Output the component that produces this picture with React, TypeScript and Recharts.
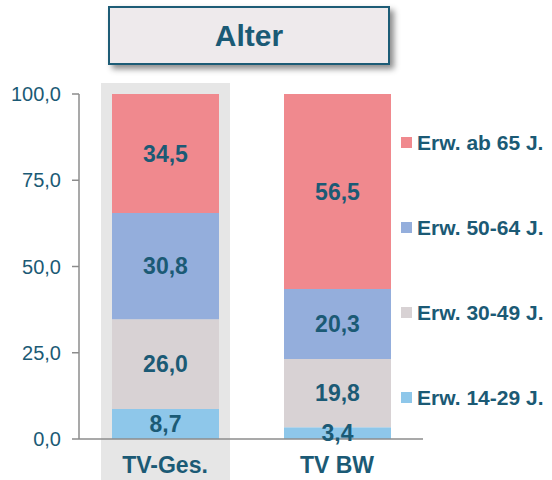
import React from 'react';
import { BarChart, Bar, XAxis, YAxis, LabelList } from 'recharts';

const categories = ['TV-Ges.', 'TV BW'];
const erw1429 = [8.7, 3.4];
const erw3049 = [26.0, 19.8];
const erw5064 = [30.8, 20.3];
const erwAb65 = [34.5, 56.5];
const yTicks = [0, 25, 50, 75, 100];

const series = [
  { key: 'a', name: 'Erw. 14-29 J.', values: erw1429, color: '#8EC7EA' },
  { key: 'b', name: 'Erw. 30-49 J.', values: erw3049, color: '#D8D2D4' },
  { key: 'c', name: 'Erw. 50-64 J.', values: erw5064, color: '#94AEDC' },
  { key: 'd', name: 'Erw. ab 65 J.', values: erwAb65, color: '#F0898E' },
];

const data = categories.map((cat, i) => {
  const row: Record<string, string | number> = { cat };
  series.forEach((s) => (row[s.key] = s.values[i]));
  return row;
});

const TEXT = '#1B5A75';
const FONT = '"Liberation Sans", Arial, sans-serif';

const fmt = (v: number) => v.toFixed(1).replace('.', ',');

// gray highlight behind the first column
const highlight = (props: any) => {
  const { x, y, width, height, index } = props;
  if (index !== 0) return <g />;
  return <rect x={x - 11} y={y - 11} width={width + 22} height={height + 53} fill="#E6E6E6" />;
};

const LegendBox = () => (
  <div style={{ position: 'absolute', left: 401, top: 100, fontFamily: FONT }}>
    {[...series].reverse().map((s) => (
      <div key={s.key} style={{ display: 'flex', alignItems: 'center', height: 85 }}>
        <span style={{ width: 11, height: 11, background: s.color, marginRight: 5, display: 'inline-block' }} />
        <span style={{ color: TEXT, fontWeight: 'bold', fontSize: 21, whiteSpace: 'nowrap' }}>{s.name}</span>
      </div>
    ))}
  </div>
);

export default function App() {
  return (
    <div style={{ position: 'absolute', left: 0, top: 0, width: 552, height: 480, background: '#fff', fontFamily: FONT }}>
      <BarChart width={552} height={480} data={data} margin={{ top: 94, right: 129, left: 0, bottom: 0 }}>
        {series.map((s, i) => (
          <Bar
            key={s.key}
            dataKey={s.key}
            name={s.name}
            stackId="1"
            fill={s.color}
            barSize={107}
            isAnimationActive={false}
            background={i === 0 ? highlight : undefined}
          >
            <LabelList
              dataKey={s.key}
              position="center"
              formatter={(v: any) => fmt(Number(v))}
              fill={TEXT}
              style={{ fontWeight: 'bold', fontSize: 23, fontFamily: FONT }}
            />
          </Bar>
        ))}
        <XAxis
          dataKey="cat"
          height={41}
          tickLine={false}
          tickSize={0}
          tickMargin={18}
          axisLine={{ stroke: '#8C8C8C', strokeWidth: 1.5 }}
          tick={{ fill: TEXT, fontSize: 23, fontWeight: 'bold', fontFamily: FONT }}
        />
        <YAxis
          width={79}
          domain={[0, 100]}
          ticks={yTicks}
          tickFormatter={(v: number) => fmt(v)}
          tickSize={7}
          tickMargin={11}
          axisLine={{ stroke: '#8C8C8C', strokeWidth: 1.5 }}
          tickLine={{ stroke: '#8C8C8C', strokeWidth: 1.5 }}
          tick={{ fill: TEXT, fontSize: 20, fontFamily: FONT }}
        />
      </BarChart>
      <LegendBox />
      <div
        style={{
          position: 'absolute',
          left: 108,
          top: 6,
          width: 278,
          height: 55,
          background: '#EEEAEC',
          border: '2px solid #1D5C76',
          boxShadow: '4px 4px 6px rgba(0,0,0,0.45)',
          display: 'flex',
          alignItems: 'center',
          justifyContent: 'center',
          color: TEXT,
          fontWeight: 'bold',
          fontSize: 30,
          fontFamily: FONT,
        }}
      >
        Alter
      </div>
    </div>
  );
}
